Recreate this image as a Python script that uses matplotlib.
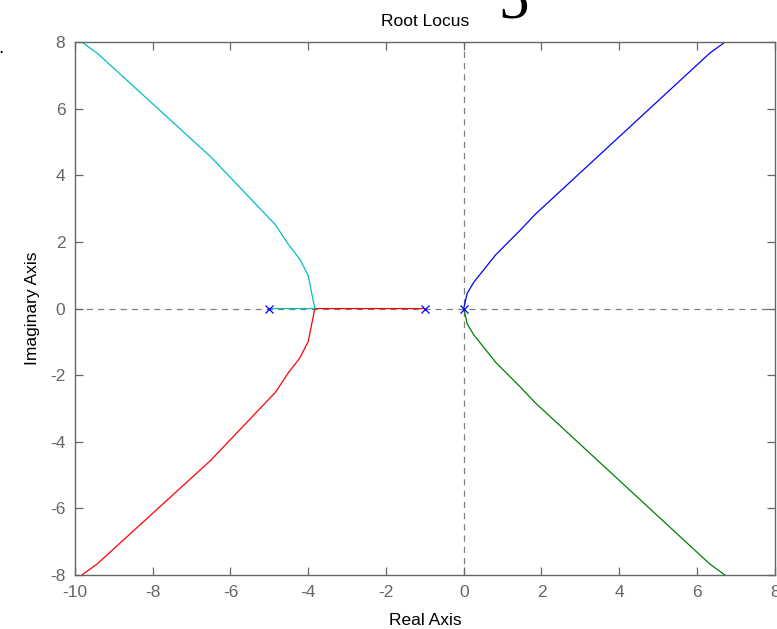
import numpy as np
import matplotlib.pyplot as plt

plt.rcParams['font.family'] = ['Liberation Sans', 'DejaVu Sans']
plt.rcParams['axes.unicode_minus'] = False

# poles (open-loop)
pole_re = [-5.0, -1.0, 0.0]
pole_im = [0.0, 0.0, 0.0]

# upper-left branch (cyan)
cyan_re = [-4.99, -3.83, -4.0, -4.22, -4.50, -4.84, -6.51, -9.43, -9.82]
cyan_im = [0.0, 0.0, 0.99, 1.49, 1.91, 2.51, 4.56, 7.67, 8.0]

# lower-left branch (red): from -1 to breakaway then down
red_re = [-1.0, -3.83, -4.0, -4.22, -4.50, -4.84, -6.51, -9.43, -9.82]
red_im = [0.0, 0.0, -0.99, -1.49, -1.91, -2.51, -4.56, -7.67, -8.0]

# right branches (blue up, green down)
blue_re = [0.0, 0.09, 0.26, 0.82, 1.46, 1.85, 6.33, 6.72]
blue_im = [0.0, 0.46, 0.79, 1.61, 2.36, 2.84, 7.67, 8.0]
green_re = [0.0, 0.09, 0.26, 0.82, 1.46, 1.85, 6.33, 6.72]
green_im = [0.0, -0.46, -0.79, -1.61, -2.36, -2.84, -7.67, -8.0]

fig = plt.figure(figsize=(7.77, 6.29), dpi=100)
ax = fig.add_axes([0.0965, 0.0859, 0.9005, 0.8471])

gray = '#666666'
ax.axhline(0, color='#808080', ls=(0, (5, 4)), lw=0.9, zorder=1)
ax.axvline(0, color='#808080', ls=(0, (5, 4)), lw=0.9, zorder=1)

ax.plot(red_re, red_im, color='red', lw=0.9)
ax.plot(cyan_re, cyan_im, color='#00bfbf', lw=0.9)
ax.plot(blue_re, blue_im, color='blue', lw=0.9)
ax.plot(green_re, green_im, color='green', lw=0.9)
ax.plot(pole_re, pole_im, ls='none', marker='x', color='blue', ms=6, mew=0.9)

ax.set_xlim(-10, 8)
ax.set_ylim(-8, 8)
ax.set_xticks(np.arange(-10, 9, 2))
ax.set_yticks(np.arange(-8, 9, 2))
ax.tick_params(direction='in', top=True, right=True, length=6, width=0.9,
               color=gray, labelcolor=gray, labelsize=12.5, pad=7)
for s in ax.spines.values():
    s.set_color(gray)
    s.set_linewidth(1.0)

ax.set_title('Root Locus', fontsize=12.5, pad=11.5)
ax.set_xlabel('Real Axis', fontsize=12.5, labelpad=9.5)
ax.set_ylabel('Imaginary Axis', fontsize=12.5, labelpad=7)

# stray marks from the page the chart was cut from
fig.text(0.641, 0.9714, '5', family='Liberation Serif', fontsize=44,
         va='baseline', ha='left')
fig.text(-0.002, 0.915, '.', fontsize=14, va='baseline', ha='left')

fig.savefig('out.png', dpi=100)
